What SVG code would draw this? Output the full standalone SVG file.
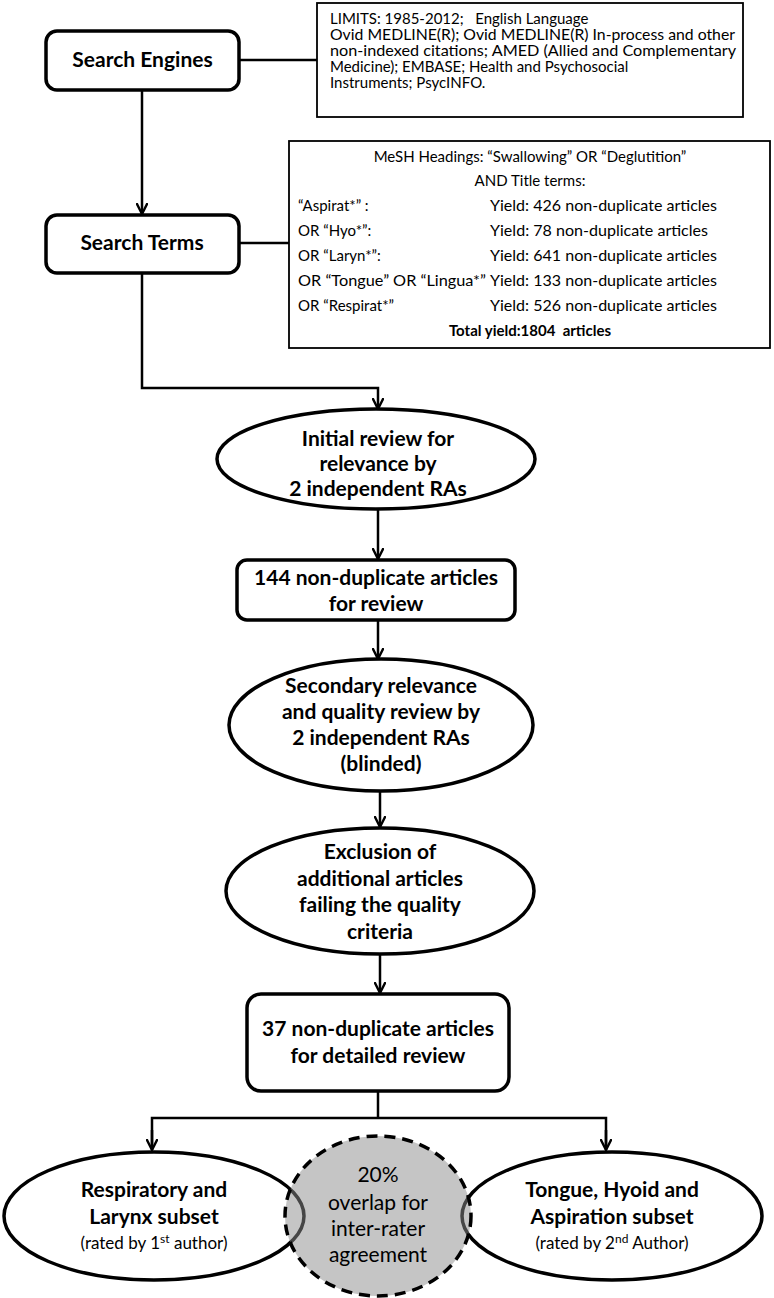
<svg xmlns="http://www.w3.org/2000/svg" width="774" height="1298" viewBox="0 0 774 1298">
<style>
  .bg { fill: #ffffff; }
  .node { fill: #ffffff; stroke: #000000; stroke-width: 3.5; }
  .info { fill: #ffffff; stroke: #000000; stroke-width: 1.8; }
  .conn { fill: none; stroke: #000000; stroke-width: 2.5; }
  .t { font-family: Lato, "Liberation Sans", sans-serif; font-weight: bold; font-size: 21px; fill: #000000; text-anchor: middle; }
  .tn { font-family: Lato, "Liberation Sans", sans-serif; font-weight: normal; font-size: 21px; fill: #000000; text-anchor: middle; }
  .s { font-family: Lato, "Liberation Sans", sans-serif; font-size: 15px; fill: #000000; }
  .sm { font-family: Lato, "Liberation Sans", sans-serif; font-size: 17px; fill: #000000; text-anchor: middle; }
  .c { text-anchor: middle; }
  .b { font-weight: bold; }
</style>
<defs>
  <marker id="arr" viewBox="0 0 12 12" refX="11" refY="6" markerWidth="12" markerHeight="12" markerUnits="userSpaceOnUse" orient="auto">
    <path d="M0,0.5 L11,6 L0,11.5" fill="none" stroke="#000000" stroke-width="2.4"/>
  </marker>
</defs>
<rect class="bg" x="0" y="0" width="774" height="1298"/>

<g id="connectors">
  <line class="conn" x1="239" y1="60" x2="317" y2="60"/>
  <line class="conn" x1="142" y1="90" x2="142" y2="214" marker-end="url(#arr)"/>
  <line class="conn" x1="239" y1="243" x2="289" y2="243"/>
  <path class="conn" d="M142,273 V388 H378 V409" marker-end="url(#arr)"/>
  <line class="conn" x1="378" y1="508" x2="378" y2="559" marker-end="url(#arr)"/>
  <line class="conn" x1="378" y1="620" x2="378" y2="659" marker-end="url(#arr)"/>
  <line class="conn" x1="380" y1="790" x2="380" y2="827" marker-end="url(#arr)"/>
  <line class="conn" x1="380" y1="954" x2="380" y2="993" marker-end="url(#arr)"/>
  <path class="conn" d="M378,1091 V1118"/>
  <path class="conn" d="M152,1146 V1118 H606 V1146"/>
  <line class="conn" x1="152" y1="1130" x2="152" y2="1150" marker-end="url(#arr)"/>
  <line class="conn" x1="606" y1="1130" x2="606" y2="1150" marker-end="url(#arr)"/>
</g>

<g id="search-engines">
  <rect class="node" x="46" y="31" width="193" height="59" rx="11"/>
  <text class="t" x="142.5" y="67" font-size="19">Search Engines</text>
</g>

<g id="limits">
  <rect class="info" x="317" y="3" width="426" height="114"/>
  <text class="s" x="330" y="24">LIMITS: 1985-2012;&#160;&#160; English Language</text>
  <text class="s" x="330" y="40" textLength="405" lengthAdjust="spacingAndGlyphs">Ovid MEDLINE(R); Ovid MEDLINE(R) In-process and other</text>
  <text class="s" x="330" y="56" textLength="406" lengthAdjust="spacingAndGlyphs">non-indexed citations; AMED (Allied and Complementary</text>
  <text class="s" x="330" y="72">Medicine); EMBASE; Health and Psychosocial</text>
  <text class="s" x="330" y="88">Instruments; PsycINFO.</text>
</g>

<g id="search-terms">
  <rect class="node" x="46" y="215" width="193" height="58" rx="11"/>
  <text class="t" x="142" y="250" font-size="19">Search Terms</text>
</g>

<g id="terms">
  <rect class="info" x="289" y="141" width="481" height="207"/>
  <text class="s c" x="530" y="162">MeSH Headings: “Swallowing” OR “Deglutition”</text>
  <text class="s c" x="530" y="186">AND Title terms:</text>
  <text class="s" x="298" y="211">“Aspirat*” :</text>
  <text class="s" x="490" y="211" textLength="227" lengthAdjust="spacingAndGlyphs">Yield: 426 non-duplicate articles</text>
  <text class="s" x="298" y="236">OR “Hyo*”:</text>
  <text class="s" x="490" y="236" textLength="218" lengthAdjust="spacingAndGlyphs">Yield: 78 non-duplicate articles</text>
  <text class="s" x="298" y="261">OR “Laryn*”:</text>
  <text class="s" x="490" y="261" textLength="227" lengthAdjust="spacingAndGlyphs">Yield: 641 non-duplicate articles</text>
  <text class="s" x="298" y="286" textLength="188" lengthAdjust="spacingAndGlyphs">OR “Tongue” OR “Lingua*”</text>
  <text class="s" x="490" y="286" textLength="227" lengthAdjust="spacingAndGlyphs">Yield: 133 non-duplicate articles</text>
  <text class="s" x="298" y="311">OR “Respirat*”</text>
  <text class="s" x="490" y="311" textLength="227" lengthAdjust="spacingAndGlyphs">Yield: 526 non-duplicate articles</text>
  <text class="s c b" x="530" y="336">Total yield:1804&#160; articles</text>
</g>

<g id="initial-review">
  <ellipse class="node" cx="376" cy="459" rx="159" ry="50"/>
  <text class="t" x="378" y="446">Initial review for</text>
  <text class="t" x="378" y="471">relevance by</text>
  <text class="t" x="378" y="496">2 independent RAs</text>
</g>

<g id="articles-144">
  <rect class="node" x="237" y="560" width="278" height="60" rx="10"/>
  <text class="t" x="376" y="585">144 non-duplicate articles</text>
  <text class="t" x="376" y="611">for review</text>
</g>

<g id="secondary-review">
  <ellipse class="node" cx="381" cy="725" rx="152" ry="66"/>
  <text class="t" x="381" y="693">Secondary relevance</text>
  <text class="t" x="381" y="719">and quality review by</text>
  <text class="t" x="381" y="745">2 independent RAs</text>
  <text class="t" x="381" y="771">(blinded)</text>
</g>

<g id="exclusion">
  <ellipse class="node" cx="380" cy="891" rx="154" ry="63"/>
  <text class="t" x="380" y="859">Exclusion of</text>
  <text class="t" x="380" y="886">additional articles</text>
  <text class="t" x="380" y="912">failing the quality</text>
  <text class="t" x="380" y="939">criteria</text>
</g>

<g id="articles-37">
  <rect class="node" x="247" y="994" width="262" height="97" rx="14"/>
  <text class="t" x="378" y="1036">37 non-duplicate articles</text>
  <text class="t" x="378" y="1063">for detailed review</text>
</g>

<g id="respiratory-subset">
  <ellipse class="node" cx="154" cy="1216" rx="150" ry="64"/>
  <text class="t" x="154" y="1197">Respiratory and</text>
  <text class="t" x="154" y="1224">Larynx subset</text>
  <text class="sm" x="154" y="1249">(rated by 1<tspan font-size="12" dy="-6">st</tspan><tspan dy="6"> author)</tspan></text>
</g>

<g id="tongue-subset">
  <ellipse class="node" cx="612" cy="1216" rx="150" ry="64"/>
  <text class="t" x="612" y="1197">Tongue, Hyoid and</text>
  <text class="t" x="612" y="1224">Aspiration subset</text>
  <text class="sm" x="612" y="1249">(rated by 2<tspan font-size="12" dy="-6">nd</tspan><tspan dy="6"> Author)</tspan></text>
</g>

<g id="overlap">
  <ellipse cx="378" cy="1216" rx="93" ry="80" fill="#8c8c8c" fill-opacity="0.5"/>
  <ellipse cx="378" cy="1216" rx="93" ry="80" fill="none" stroke="#000000" stroke-width="3.5" stroke-dasharray="11,7"/>
  <text class="tn" x="378" y="1182">20%</text>
  <text class="tn" x="378" y="1210">overlap for</text>
  <text class="tn" x="378" y="1236">inter-rater</text>
  <text class="tn" x="378" y="1262">agreement</text>
</g>
</svg>
